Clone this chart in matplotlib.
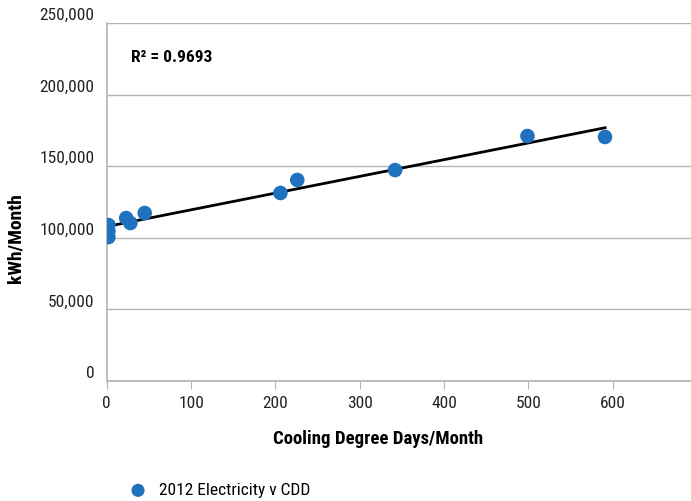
import numpy as np
import matplotlib.pyplot as plt
from matplotlib.ticker import FuncFormatter

plt.rcParams['font.family'] = ['Roboto Condensed', 'Archivo Narrow', 'DejaVu Sans']

# monthly cooling degree days vs electricity use (2012)
cdd = [2, 2, 2, 23, 28, 45, 206, 226, 342, 499, 591]
kwh = [108900, 104700, 100500, 113800, 110300, 117300, 131300, 140400, 147300, 171100, 170400]
r2_text = "R² = 0.9693"
series_name = "2012 Electricity v CDD"

blue = '#1f72bd'
grid_col = '#b3b3b3'

fig = plt.figure(figsize=(6.91, 5.01), dpi=100)
ax = fig.add_axes([0.1545, 0.2395, 0.8455, 0.7146])

ax.scatter(cdd, kwh, s=110, color=blue, zorder=3, label=series_name, edgecolors='none')

m, b = np.polyfit(cdd, kwh, 1)
xs = np.array([0, max(cdd)])
ax.plot(xs, m * xs + b, color='black', lw=2, zorder=2)

ax.set_xlim(0, 693)
ax.set_ylim(0, 250000)
ax.set_xticks(range(0, 700, 100))
ax.set_yticks(range(0, 250001, 50000))
ax.yaxis.set_major_formatter(FuncFormatter(lambda v, p: f"{int(v):,}"))

ax.grid(axis='y', color=grid_col, lw=1)
ax.set_axisbelow(True)
for s in ['top', 'right']:
    ax.spines[s].set_visible(False)
for s in ['left', 'bottom']:
    ax.spines[s].set_color(grid_col)
    ax.spines[s].set_linewidth(1.2)

ax.tick_params(axis='y', length=0, pad=9, labelsize=12.5, labelcolor='#222222')
ax.tick_params(axis='x', length=6, color=grid_col, pad=5, labelsize=12.5, labelcolor='#222222')
for lab in ax.get_yticklabels():
    lab.set_va('bottom')

ax.set_xlabel("Cooling Degree Days/Month", fontsize=13.5, fontweight='bold')
ax.set_ylabel("kWh/Month", fontsize=14, fontweight='bold')
ax.xaxis.set_label_coords(0.465, -0.137)
ax.yaxis.set_label_coords(-0.14, 0.40)

ax.text(0.042, 0.89, r2_text, transform=ax.transAxes, fontsize=12.5, fontweight='bold')

fig.legend(loc='lower left', bbox_to_anchor=(0.152, -0.025), frameon=False, fontsize=12.5,
           handletextpad=0.2, markerscale=0.9)

fig.savefig('out.png', dpi=100)
